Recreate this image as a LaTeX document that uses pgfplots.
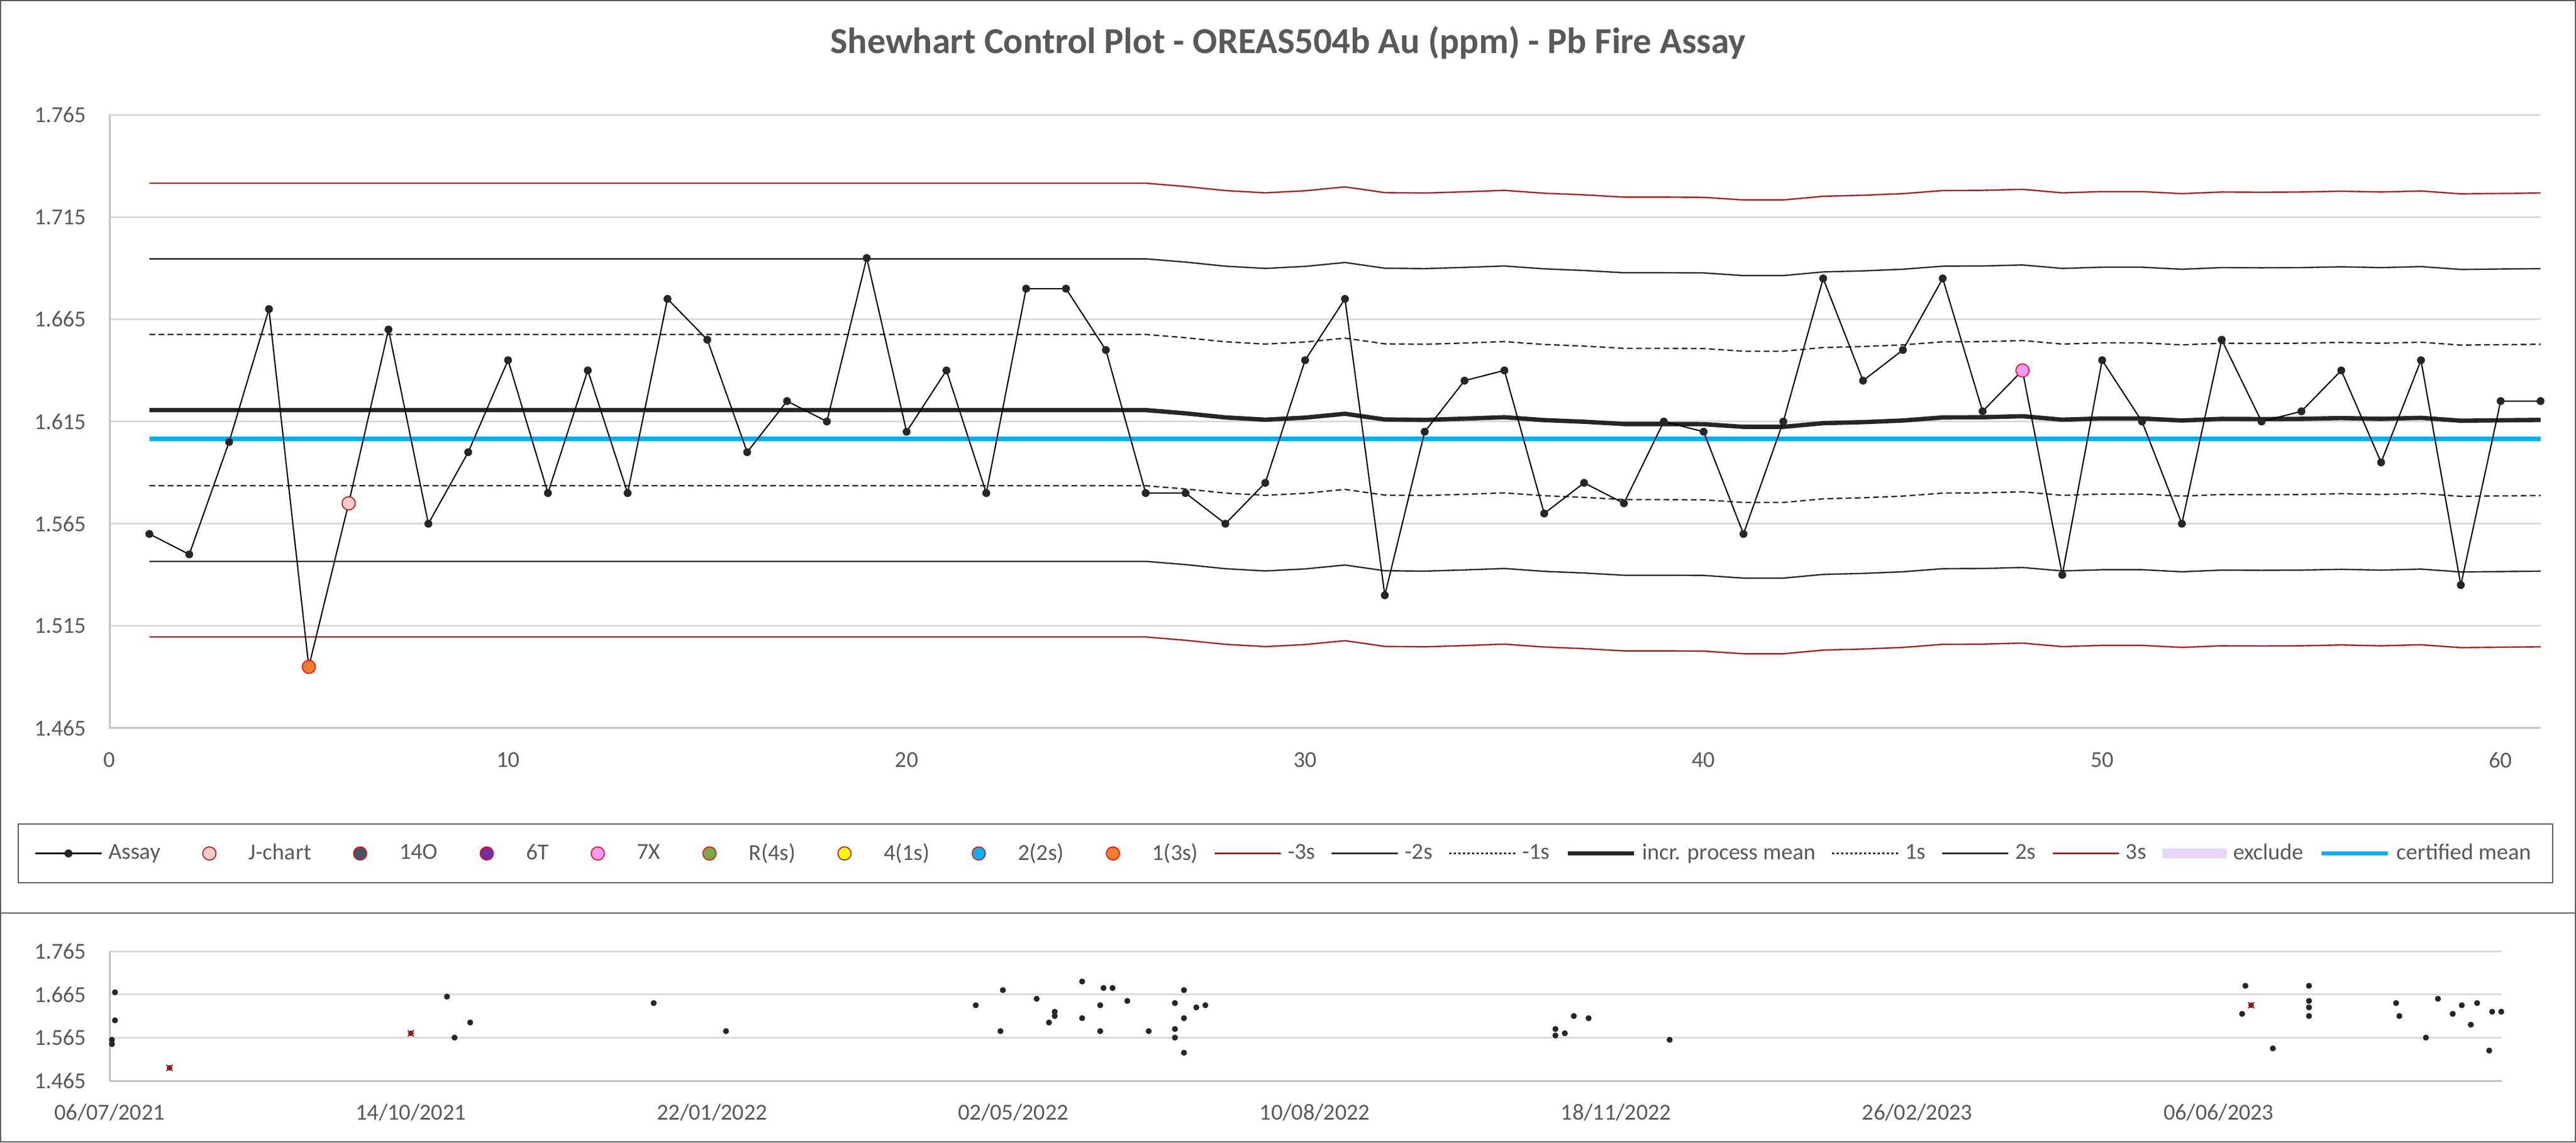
\documentclass[border=0pt]{standalone}
\usepackage{fontspec}
\setmainfont{Carlito}
\usepackage{pgfplots}
\usepackage{pgfplotstable}
\pgfplotsset{compat=1.18}
\definecolor{txt}{HTML}{595959}
\definecolor{gridc}{HTML}{D9D9D9}
\definecolor{axisc}{HTML}{BFBFBF}
\definecolor{limr}{HTML}{A51C1C}
\definecolor{cert}{HTML}{00B0F0}
\definecolor{jfill}{HTML}{F8CBCB}
\definecolor{jedge}{HTML}{C00000}
\definecolor{ofill}{HTML}{ED7D31}
\definecolor{xfill}{HTML}{FF99FF}
\definecolor{tfill}{HTML}{7030A0}
\definecolor{ffill}{HTML}{44546A}
\definecolor{gfill}{HTML}{70AD47}
\definecolor{yfill}{HTML}{FFFF00}
\definecolor{bfill}{HTML}{00B0F0}
\definecolor{excl}{HTML}{E6D5F8}
\definecolor{framec}{HTML}{595959}
\definecolor{dotc}{HTML}{262626}

\pgfplotstableread{
x y
1 1.560
2 1.550
3 1.605
4 1.670
5 1.495
6 1.575
7 1.660
8 1.565
9 1.600
10 1.645
11 1.580
12 1.640
13 1.580
14 1.675
15 1.655
16 1.600
17 1.625
18 1.615
19 1.695
20 1.610
21 1.640
22 1.580
23 1.680
24 1.680
25 1.650
26 1.580
27 1.580
28 1.565
29 1.585
30 1.645
31 1.675
32 1.530
33 1.610
34 1.635
35 1.640
36 1.570
37 1.585
38 1.575
39 1.615
40 1.610
41 1.560
42 1.615
43 1.685
44 1.635
45 1.650
46 1.685
47 1.620
48 1.640
49 1.540
50 1.645
51 1.615
52 1.565
53 1.655
54 1.615
55 1.620
56 1.640
57 1.595
58 1.645
59 1.535
60 1.625
61 1.625
}\assay

\pgfplotstableread{
x mean m3 m2 m1 p1 p2 p3
1 1.6206 1.5096 1.5466 1.5836 1.6576 1.6946 1.7316
26 1.6206 1.5096 1.5466 1.5836 1.6576 1.6946 1.7316
27 1.6190 1.5080 1.5450 1.5820 1.6560 1.6930 1.7300
28 1.6170 1.5060 1.5430 1.5800 1.6540 1.6910 1.7280
29 1.6159 1.5049 1.5419 1.5789 1.6529 1.6899 1.7269
30 1.6169 1.5059 1.5429 1.5799 1.6539 1.6909 1.7279
31 1.6188 1.5078 1.5448 1.5818 1.6558 1.6928 1.7298
32 1.6160 1.5050 1.5420 1.5790 1.6530 1.6900 1.7270
33 1.6158 1.5048 1.5418 1.5788 1.6528 1.6898 1.7268
34 1.6164 1.5054 1.5424 1.5794 1.6534 1.6904 1.7274
35 1.6171 1.5061 1.5431 1.5801 1.6541 1.6911 1.7281
36 1.6157 1.5047 1.5417 1.5787 1.6527 1.6897 1.7267
37 1.6149 1.5039 1.5409 1.5779 1.6519 1.6889 1.7259
38 1.6138 1.5028 1.5398 1.5768 1.6508 1.6878 1.7248
39 1.6138 1.5028 1.5398 1.5768 1.6508 1.6878 1.7248
40 1.6137 1.5027 1.5397 1.5767 1.6507 1.6877 1.7247
41 1.6124 1.5014 1.5384 1.5754 1.6494 1.6864 1.7234
42 1.6124 1.5014 1.5384 1.5754 1.6494 1.6864 1.7234
43 1.6142 1.5032 1.5402 1.5772 1.6512 1.6882 1.7252
44 1.6147 1.5037 1.5407 1.5777 1.6517 1.6887 1.7257
45 1.6155 1.5045 1.5415 1.5785 1.6525 1.6895 1.7265
46 1.6170 1.5060 1.5430 1.5800 1.6540 1.6910 1.7280
47 1.6171 1.5061 1.5431 1.5801 1.6541 1.6911 1.7281
48 1.6176 1.5066 1.5436 1.5806 1.6546 1.6916 1.7286
49 1.6159 1.5049 1.5419 1.5789 1.6529 1.6899 1.7269
50 1.6165 1.5055 1.5425 1.5795 1.6535 1.6905 1.7275
51 1.6165 1.5055 1.5425 1.5795 1.6535 1.6905 1.7275
52 1.6155 1.5045 1.5415 1.5785 1.6525 1.6895 1.7265
53 1.6163 1.5053 1.5423 1.5793 1.6533 1.6903 1.7273
54 1.6162 1.5052 1.5422 1.5792 1.6532 1.6902 1.7272
55 1.6163 1.5053 1.5423 1.5793 1.6533 1.6903 1.7273
56 1.6167 1.5057 1.5427 1.5797 1.6537 1.6907 1.7277
57 1.6163 1.5053 1.5423 1.5793 1.6533 1.6903 1.7273
58 1.6168 1.5058 1.5428 1.5798 1.6538 1.6908 1.7278
59 1.6154 1.5044 1.5414 1.5784 1.6524 1.6894 1.7264
60 1.6156 1.5046 1.5416 1.5786 1.6526 1.6896 1.7266
61 1.6158 1.5048 1.5418 1.5788 1.6528 1.6898 1.7268
}\limits

\pgfplotstableread{
d y
1.8 1.670
1.8 1.605
0.8 1.560
0.8 1.550
112.0 1.660
114.5 1.565
119.7 1.600
180.6 1.645
204.6 1.580
287.5 1.640
295.7 1.580
296.5 1.675
307.7 1.655
311.8 1.600
313.7 1.625
313.7 1.615
322.8 1.695
322.8 1.610
328.8 1.640
328.8 1.580
329.9 1.680
332.9 1.680
337.8 1.650
344.9 1.580
353.6 1.645
353.6 1.585
353.6 1.565
356.6 1.675
356.6 1.610
356.6 1.530
360.7 1.635
363.7 1.640
479.9 1.585
479.9 1.570
483.0 1.575
486.0 1.615
490.9 1.610
517.8 1.560
707.8 1.620
708.9 1.685
718.0 1.540
730.0 1.685
730.0 1.650
730.0 1.635
730.0 1.615
758.9 1.645
760.0 1.615
768.8 1.565
772.8 1.655
777.7 1.620
780.7 1.640
783.7 1.595
785.8 1.645
789.8 1.535
790.8 1.625
793.8 1.625
}\dated

\pgfplotstableread{
d y
19.9 1.495
100.0 1.575
710.8 1.640
}\flagged

\pgfplotsset{
  myleg/.style={legend image code/.code={\path[draw=none,fill=none] (0pt,-3pt) (29pt,3pt);\draw[mark repeat=2,mark phase=2,##1] plot coordinates {(0pt,0pt) (14.5pt,0pt) (29pt,0pt)};}},
  flagmk/.style={only marks, mark=*, mark size=2.9pt, mark options={line width=0.7pt}},
}

\begin{document}
\begin{tikzpicture}
\useasboundingbox (0,0) rectangle (1128.75pt,500.5pt);

\begin{axis}[
  at={(48pt,181.5pt)}, anchor=south west,
  scale only axis, width=1065.25pt, height=268.65pt,
  xmin=0, xmax=61, ymin=1.465, ymax=1.765,
  axis x line=bottom, axis y line=left,
  axis line style={-, draw=axisc, line width=0.75pt},
  xtick={0,10,20,30,40,50,60},
  xticklabels={0,10,20,30,40,50,60},
  ytick={1.465,1.515,1.565,1.615,1.665,1.715,1.765},
  yticklabels={1.465,1.515,1.565,1.615,1.665,1.715,1.765},
  /pgf/number format/assume math mode=true,
  major tick length=0pt,
  ymajorgrids, grid style={draw=gridc, line width=0.75pt},
  xticklabel style={font=\fontsize{10}{12}\selectfont, text=txt, anchor=north, inner sep=0pt, yshift=-10.4pt},
  yticklabel style={font=\fontsize{10}{12}\selectfont, text=txt, anchor=east, inner sep=0pt, xshift=-10pt},
  clip=false,
  myleg,
  legend style={at={(-0.03098,-0.20435)}, anchor=west, draw=none, fill=none, inner sep=0pt,
    font=\fontsize{10}{12}\selectfont, text=txt,
    nodes={inner sep=2.75pt},
    /tikz/every even column/.append style={column sep=4.2pt}},
  legend columns=18,
]
% control limits
\addplot[forget plot, limr, line width=0.6pt] table[x=x, y=m3] {\limits};
\addplot[forget plot, dotc, line width=0.6pt] table[x=x, y=m2] {\limits};
\addplot[forget plot, dotc, line width=0.6pt, dash pattern=on 2.5pt off 1.5pt] table[x=x, y=m1] {\limits};
\addplot[forget plot, dotc, line width=0.6pt, dash pattern=on 2.5pt off 1.5pt] table[x=x, y=p1] {\limits};
\addplot[forget plot, dotc, line width=0.6pt] table[x=x, y=p2] {\limits};
\addplot[forget plot, limr, line width=0.6pt] table[x=x, y=p3] {\limits};
\addplot[forget plot, dotc, line width=1.9pt] table[x=x, y=mean] {\limits};
\addplot[forget plot, cert, line width=1.9pt] coordinates {(1,1.6065) (61,1.6065)};
% assays
\addplot[forget plot, black, line width=0.55pt, mark=*, mark size=1.45pt, mark options={fill=dotc, draw=dotc}] table[x=x, y=y] {\assay};
% flagged points
\addplot[forget plot, flagmk, mark options={fill=ofill, draw=red}] coordinates {(5,1.495)};
\addplot[forget plot, flagmk, mark options={fill=jfill, draw=jedge}] coordinates {(6,1.575)};
\addplot[forget plot, flagmk, mark options={fill=xfill, draw=red}] coordinates {(48,1.640)};

% legend
\addlegendimage{black, line width=0.6pt, mark=*, mark size=1.45pt, mark options={fill=dotc, draw=dotc}, myleg}
\addlegendentry{Assay}
\addlegendimage{flagmk, mark options={fill=jfill, draw=jedge}, myleg}
\addlegendentry{J-chart}
\addlegendimage{flagmk, mark options={fill=ffill, draw=red}, myleg}
\addlegendentry{14O}
\addlegendimage{flagmk, mark options={fill=tfill, draw=red}, myleg}
\addlegendentry{6T}
\addlegendimage{flagmk, mark options={fill=xfill, draw=red}, myleg}
\addlegendentry{7X}
\addlegendimage{flagmk, mark options={fill=gfill, draw=red}, myleg}
\addlegendentry{R(4s)}
\addlegendimage{flagmk, mark options={fill=yfill, draw=jedge}, myleg}
\addlegendentry{4(1s)}
\addlegendimage{flagmk, mark options={fill=bfill, draw=red}, myleg}
\addlegendentry{2(2s)}
\addlegendimage{flagmk, mark options={fill=ofill, draw=red}, myleg}
\addlegendentry{1(3s)}
\addlegendimage{limr, line width=0.6pt, myleg}
\addlegendentry{-3s}
\addlegendimage{dotc, line width=0.6pt, myleg}
\addlegendentry{-2s}
\addlegendimage{dotc, line width=0.6pt, dash pattern=on 1pt off 1pt, myleg}
\addlegendentry{-1s}
\addlegendimage{dotc, line width=1.9pt, myleg}
\addlegendentry{incr. process mean}
\addlegendimage{dotc, line width=0.6pt, dash pattern=on 1pt off 1pt, myleg}
\addlegendentry{1s}
\addlegendimage{dotc, line width=0.6pt, myleg}
\addlegendentry{2s}
\addlegendimage{limr, line width=0.6pt, myleg}
\addlegendentry{3s}
\addlegendimage{legend image code/.code={\fill[excl] (0pt,-2pt) rectangle (28pt,2pt);}}
\addlegendentry{exclude}
\addlegendimage{cert, line width=1.9pt, myleg}
\addlegendentry{certified mean}
\end{axis}

\begin{axis}[
  at={(48pt,27pt)}, anchor=south west,
  scale only axis, width=1048.25pt, height=56.75pt,
  xmin=0, xmax=794, ymin=1.465, ymax=1.765,
  axis x line=bottom, axis y line=left,
  axis line style={-, draw=axisc, line width=0.75pt},
  xtick={0,100,200,300,400,500,600,700},
  xticklabels={06/07/2021,14/10/2021,22/01/2022,02/05/2022,10/08/2022,18/11/2022,26/02/2023,06/06/2023},
  ytick={1.465,1.565,1.665,1.765},
  yticklabels={1.465,1.565,1.665,1.765},
  major tick length=0pt,
  ymajorgrids, grid style={draw=gridc, line width=0.75pt},
  xticklabel style={font=\fontsize{10}{12}\selectfont, text=txt, anchor=north, inner sep=0pt, yshift=-10pt},
  yticklabel style={font=\fontsize{10}{12}\selectfont, text=txt, anchor=east, inner sep=0pt, xshift=-10pt},
  clip=false,
]
\addplot[only marks, mark=*, mark size=1.1pt, mark options={fill=dotc, draw=dotc}] table[x=d, y=y] {\dated};
\addplot[only marks, mark=*, mark size=1.0pt, mark options={fill=limr!70!black, draw=limr!70!black}] table[x=d, y=y] {\flagged};
\addplot[only marks, mark=x, mark size=1.9pt, mark options={draw=limr, line width=0.5pt}] table[x=d, y=y] {\flagged};
\end{axis}

% title
\node[font=\bfseries\fontsize{16}{19}\selectfont, text=txt] at (564.4pt,481.75pt) {Shewhart Control Plot - OREAS504b Au (ppm) - Pb Fire Assay};
% frames
\draw[framec, line width=0.5pt] (0.25pt,0.25pt) rectangle (1128.5pt,500.25pt);
\draw[framec, line width=0.5pt] (0.25pt,100.5pt) -- (1128.5pt,100.5pt);
\draw[framec, line width=0.5pt] (8pt,113.75pt) rectangle (1118.5pt,139.5pt);
\end{tikzpicture}
\end{document}
